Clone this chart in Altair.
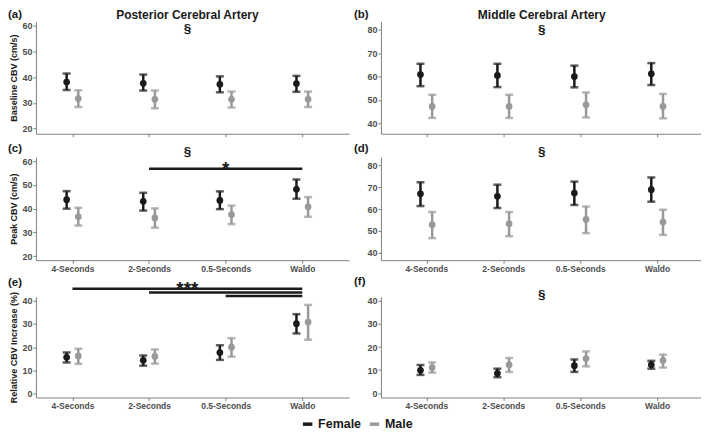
import json
import pandas as pd
import altair as alt

conditions = ["4-Seconds", "2-Seconds", "0.5-Seconds", "Waldo"]
sexes = ["Female", "Male"]
sex_colors = ["#1a1a1a", "#999999"]

# (a) Posterior cerebral artery, baseline CBV (cm/s)
a_f_mean = [38.1, 37.6, 37.2, 37.5]
a_f_lo = [35.0, 34.8, 34.1, 34.3]
a_f_hi = [41.4, 41.0, 40.3, 40.5]
a_m_mean = [31.7, 31.4, 31.4, 31.4]
a_m_lo = [28.4, 27.9, 28.2, 28.4]
a_m_hi = [34.9, 34.8, 34.4, 34.4]

# (b) Middle cerebral artery, baseline CBV (cm/s)
b_f_mean = [60.9, 60.5, 60.0, 61.2]
b_f_lo = [55.9, 55.5, 55.4, 56.4]
b_f_hi = [65.5, 65.5, 64.7, 65.8]
b_m_mean = [47.2, 47.2, 47.9, 47.2]
b_m_lo = [42.3, 42.3, 42.5, 42.1]
b_m_hi = [52.2, 52.2, 53.2, 52.6]

# (c) Posterior cerebral artery, peak CBV (cm/s)
c_f_mean = [43.8, 43.1, 43.5, 48.2]
c_f_lo = [40.0, 39.2, 39.8, 44.2]
c_f_hi = [47.4, 46.7, 47.3, 52.3]
c_m_mean = [36.6, 36.1, 37.5, 40.8]
c_m_lo = [32.9, 32.0, 33.5, 36.6]
c_m_hi = [40.4, 40.1, 41.3, 44.9]

# (d) Middle cerebral artery, peak CBV (cm/s)
d_f_mean = [67.0, 65.9, 67.4, 68.9]
d_f_lo = [61.4, 60.5, 61.9, 63.4]
d_f_hi = [72.3, 71.2, 72.6, 74.5]
d_m_mean = [52.8, 53.3, 55.3, 54.1]
d_m_lo = [46.7, 47.6, 49.0, 48.2]
d_m_hi = [58.7, 58.7, 61.2, 59.7]

# (e) Posterior cerebral artery, relative CBV increase (%)
e_f_mean = [15.6, 14.3, 17.7, 30.1]
e_f_lo = [13.4, 12.0, 14.5, 25.9]
e_f_hi = [17.7, 16.4, 20.8, 34.2]
e_m_mean = [16.2, 16.0, 20.0, 30.8]
e_m_lo = [12.8, 12.9, 15.9, 23.2]
e_m_hi = [19.3, 19.0, 23.9, 38.2]

# (f) Middle cerebral artery, relative CBV increase (%)
f_f_mean = [9.9, 8.6, 11.9, 12.3]
f_f_lo = [7.9, 6.9, 9.2, 10.6]
f_f_hi = [12.2, 10.6, 14.6, 14.0]
f_m_mean = [11.1, 12.3, 15.0, 14.2]
f_m_lo = [8.9, 9.2, 11.6, 11.1]
f_m_hi = [13.3, 15.2, 18.1, 16.7]

# significance brackets: (from condition index, to condition index, y value)
c_sig = [(1, 3, 56.8)]
e_sig = [(0, 3, 45.2), (1, 3, 43.5), (2, 3, 42.0)]

# annotation symbols: (x condition position, y baseline value, text)
a_sect = [(1.5, 57.1, "§")]
b_sect = [(1.5, 78.4, "§")]
c_sect = [(1.5, 62.3, "§")]
d_sect = [(1.5, 84.4, "§")]
f_sect = [(1.5, 41.0, "§")]
c_star = [(2.0, 54.4, "*")]
e_star = [(1.5, 42.3, "***")]

FONT = "Liberation Sans"
label_expr = json.dumps(conditions) + "[datum.value]"
color_scale = alt.Scale(domain=sexes, range=sex_colors)


def long_df(fm, flo, fhi, mm, mlo, mhi):
    rows = []
    for i, c in enumerate(conditions):
        rows.append(dict(idx=i, cond=c, sex="Female", mean=fm[i], lo=flo[i], hi=fhi[i]))
        rows.append(dict(idx=i, cond=c, sex="Male", mean=mm[i], lo=mlo[i], hi=mhi[i]))
    return pd.DataFrame(rows)


def panel(df, ydom, yticks, xdom, width, height, show_labels, ytitle,
          label, label_dx, label_dy, sig=None, sect=None, star=None, header=None):
    xscale = alt.Scale(domain=xdom, nice=False, zero=False)
    xaxis = alt.Axis(values=[0, 1, 2, 3], labels=show_labels, labelExpr=label_expr,
                     title=None, grid=False)
    yscale = alt.Scale(domain=ydom, nice=False, zero=False)
    yaxis = alt.Axis(values=yticks, title=ytitle, grid=False)

    base = alt.Chart(df).transform_calculate(
        pos="datum.idx + (datum.sex == 'Female' ? -0.076 : 0.076)"
    )
    X = alt.X("pos:Q", scale=xscale, axis=xaxis)
    fill = alt.Fill("sex:N", scale=color_scale, legend=None)

    rules = base.mark_rule(strokeWidth=2.5).encode(
        x=X,
        y=alt.Y("lo:Q", scale=yscale, axis=yaxis),
        y2="hi:Q",
        color=alt.Color("sex:N", scale=color_scale, legend=alt.Legend(
            orient="none", legendX=266, legendY=397,
            direction="horizontal", title=None,
            symbolType="stroke", symbolStrokeWidth=3.5, symbolSize=90,
            labelFontSize=12.5, labelFontWeight="bold", labelColor="#1a1a1a",
            labelFont=FONT, columnPadding=0, labelOffset=4)),
    )
    cap_lo = base.mark_tick(orient="horizontal", size=8, thickness=2.5).encode(
        x=X, y=alt.Y("lo:Q", scale=yscale, axis=yaxis), fill=fill)
    cap_hi = base.mark_tick(orient="horizontal", size=8, thickness=2.5).encode(
        x=X, y=alt.Y("hi:Q", scale=yscale, axis=yaxis), fill=fill)
    pts = base.mark_circle(size=45, opacity=1).encode(
        x=X, y=alt.Y("mean:Q", scale=yscale, axis=yaxis), fill=fill)

    layers = [rules, cap_lo, cap_hi, pts]

    if sig:
        sdf = pd.DataFrame(sig, columns=["x", "x2", "y"])
        layers.append(alt.Chart(sdf).mark_rule(strokeWidth=2.5, color="#1a1a1a", clip=False).encode(
            x=alt.X("x:Q", scale=xscale, axis=xaxis), x2="x2:Q",
            y=alt.Y("y:Q", scale=yscale, axis=yaxis)))
    if sect:
        tdf = pd.DataFrame(sect, columns=["x", "y", "t"])
        layers.append(alt.Chart(tdf).mark_text(
            fontSize=13.5, fontWeight="bold", font=FONT, color="#1a1a1a",
            baseline="alphabetic", align="center", clip=False).encode(
            x=alt.X("x:Q", scale=xscale, axis=xaxis),
            y=alt.Y("y:Q", scale=yscale, axis=yaxis), text="t:N"))
    if star:
        tdf = pd.DataFrame(star, columns=["x", "y", "t"])
        layers.append(alt.Chart(tdf).mark_text(
            fontSize=19, fontWeight="bold", font=FONT, color="#1a1a1a",
            baseline="alphabetic", align="center", clip=False).encode(
            x=alt.X("x:Q", scale=xscale, axis=xaxis),
            y=alt.Y("y:Q", scale=yscale, axis=yaxis), text="t:N"))

    ldf = pd.DataFrame({"t": [label]})
    layers.append(alt.Chart(ldf).mark_text(
        fontSize=11.5, fontWeight="bold", font=FONT, color="#1a1a1a",
        align="left", baseline="middle").encode(
        x=alt.value(label_dx), y=alt.value(label_dy), text="t:N"))

    if header:
        hdf = pd.DataFrame({"t": [header]})
        layers.append(alt.Chart(hdf).mark_text(
            fontSize=12, fontWeight="bold", font=FONT, color="#1a1a1a",
            align="center", baseline="middle").encode(
            x=alt.datum(1.5), y=alt.value(-6.5), text="t:N"))

    return alt.layer(*layers).properties(width=width, height=height)


XL = [-0.477, 3.61]
XR = [-0.59, 3.57]
WL, WR = 314, 321
H1, H2, H3 = 112.5, 103.3, 101

pa = panel(long_df(a_f_mean, a_f_lo, a_f_hi, a_m_mean, a_m_lo, a_m_hi),
           [18.0, 61.6], [20, 30, 40, 50, 60], XL, WL, H1, False,
           "Baseline CBV (cm/s)", "(a)", -28, -6.5, sect=a_sect,
           header="Posterior Cerebral Artery")
pb = panel(long_df(b_f_mean, b_f_lo, b_f_hi, b_m_mean, b_m_lo, b_m_hi),
           [35.5, 83.6], [40, 50, 60, 70, 80], XR, WR, H1, False,
           None, "(b)", -27, -6.5, sect=b_sect,
           header="Middle Cerebral Artery")
pc = panel(long_df(c_f_mean, c_f_lo, c_f_hi, c_m_mean, c_m_lo, c_m_hi),
           [18.3, 61.7], [20, 30, 40, 50, 60], XL, WL, H2, True,
           "Peak CBV (cm/s)", "(c)", -28, -8, sig=c_sig, sect=c_sect, star=c_star)
pd_ = panel(long_df(d_f_mean, d_f_lo, d_f_hi, d_m_mean, d_m_lo, d_m_hi),
            [36.6, 83.8], [40, 50, 60, 70, 80], XR, WR, H2, True,
            None, "(d)", -27, -8, sect=d_sect)
pe = panel(long_df(e_f_mean, e_f_lo, e_f_hi, e_m_mean, e_m_lo, e_m_hi),
           [-1.7, 41.7], [0, 10, 20, 30, 40], XL, WL, H3, True,
           "Relative CBV Increase (%)", "(e)", -28, -14, sig=e_sig, star=e_star)
pf = panel(long_df(f_f_mean, f_f_lo, f_f_hi, f_m_mean, f_m_lo, f_m_hi),
           [-1.9, 41.8], [0, 10, 20, 30, 40], XR, WR, H3, True,
           None, "(f)", -27, -15, sect=f_sect)

row1 = alt.hconcat(pa, pb, spacing=5)
row2 = alt.hconcat(pc, pd_, spacing=5)
row3 = alt.hconcat(pe, pf, spacing=5)

chart = alt.vconcat(
    alt.vconcat(row1, row2, spacing=6),
    row3, spacing=3,
).resolve_scale(color="shared", fill="shared").properties(
    padding={"left": 0, "top": 0, "right": 0, "bottom": 0}
).configure(font=FONT).configure_view(stroke=None).configure_axis(
    domainColor="#7f7f7f", domainWidth=1, tickColor="#7f7f7f", tickSize=3, tickWidth=1,
    labelColor="#4d4d4d", labelFont=FONT, labelFontWeight="bold", labelFontSize=9,
    labelPadding=1, titleFont=FONT, titleFontWeight="bold", titleFontSize=9,
    titleColor="#1a1a1a", titlePadding=3, grid=False,
).configure_axisX(labelFontSize=8.5)

chart.save("out.html", embed_options={"renderer": "svg", "actions": False})
